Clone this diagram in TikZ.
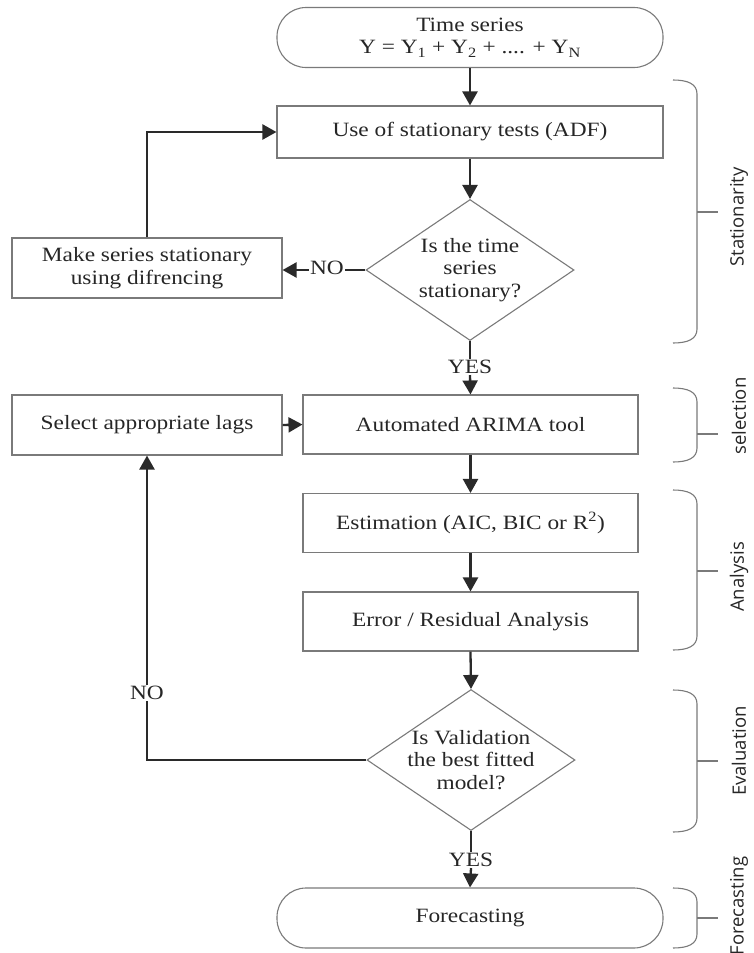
\documentclass[tikz,border=0pt]{standalone}
\usepackage{fontspec}
\setmainfont{Liberation Serif}[FakeStretch=1.15]
\newfontfamily\brfont{Open Sans}
\usetikzlibrary{shapes.geometric,arrows.meta}
\definecolor{boxline}{HTML}{7A7A7A}
\definecolor{arrline}{HTML}{2A2A2A}
\definecolor{txt}{HTML}{262626}
\begin{document}
\begin{tikzpicture}[x=1pt,y=-1pt,
  every node/.style={text=txt, font=\fontsize{20.3}{22.5}\selectfont},
  proc/.style={draw=boxline, line width=1.1pt, rectangle, minimum width=335pt, minimum height=59pt, inner sep=0pt, align=center},
  wide/.style={proc, minimum width=386pt, minimum height=52pt},
  side/.style={proc, minimum width=270pt, minimum height=60pt},
  term/.style={proc, minimum width=386pt, minimum height=60pt, rounded corners=29pt},
  dia/.style={draw=boxline, line width=1.1pt, diamond, minimum width=208pt, minimum height=141pt, inner sep=0pt},
  lbl/.style={inner sep=1pt, align=center},
  arr/.style={draw=arrline, line width=2.3pt, -{Triangle[length=14pt,width=15pt]}},
  ln/.style={draw=arrline, line width=2.3pt},
  brace/.style={draw=boxline, line width=1.1pt},
  brlab/.style={rotate=90, text=txt, font=\brfont\fontsize{18.5}{20}\selectfont}
]
\useasboundingbox (0,0) rectangle (754,953);

% main column
\node[term] (t1) at (470,37.5) {Time series\\Y = Y\textsubscript{1} + Y\textsubscript{2} + .... + Y\textsubscript{N}};
\node[wide] (b1) at (470,132) {Use of stationary tests (ADF)};
\node[dia] (d1) at (470,270) {};
\node[lbl] (d1t) at (d1.center) {Is the time\\series\\stationary?};
\node[side] (m) at (147,268) {Make series stationary\\using difrencing};
\node[lbl] (yes1) at (470,367) {YES};
\node[proc] (a) at (470.5,424.5) {Automated ARIMA tool};
\node[side] (s) at (147,425) {Select appropriate lags};
\node[proc] (e) at (470.5,523) {Estimation (AIC, BIC or R\textsuperscript{2})};
\node[proc] (r) at (470.5,621.5) {Error / Residual Analysis};
\node[dia] (d2) at (471,760) {};
\node[lbl] (d2t) at (d2.center) {Is Validation\\the best fitted\\model?};
\node[lbl] (no2) at (147,693) {NO};
\node[lbl] (yes2) at (471,860) {YES};
\node[term] (f) at (470,918) {Forecasting};

% connectors
\draw[arr] (t1.south) -- (b1.north);
\draw[arr] (b1.south) -- (d1.north);
\draw[arr] (d1.west) -- (m.east |- d1.west);
\node[lbl, fill=white] (no1) at (327,268) {NO};
\draw[arr] (m.north) |- (b1.west);
\draw[ln] (d1.south) -- (yes1.north);
\draw[arr] (yes1.south) -- (a.north);
\draw[arr] (s.east) -- (a.west);
\draw[arr] (a.south) -- (e.north);
\draw[arr] (e.south) -- (r.north);
\draw[arr] (r.south) -- (d2.north);
\draw[ln] (d2.west) -| (no2.south);
\draw[arr] (no2.north) -- (s.south);
\draw[ln] (d2.south) -- (yes2.north);
\draw[arr] (yes2.south) -- (f.north);

% braces
\foreach \t/\b/\m/\lab/\ly in {80/343/212/Stationarity/217, 388/462/434/selection/416, 490/650/571/Analysis/577, 690/832/761/Evaluation/751, 888/948/918/Forecasting/906} {
  \draw[brace] (673,\t) .. controls (688,\t) and (697,\t+4) .. (697,\t+14) -- (697,\b-14) .. controls (697,\b-4) and (688,\b) .. (673,\b);
  \draw[brace] (697,\m) -- (718,\m);
  \node[brlab] (br\lab) at (739,\ly) {\lab};
}
\end{tikzpicture}
\end{document}
